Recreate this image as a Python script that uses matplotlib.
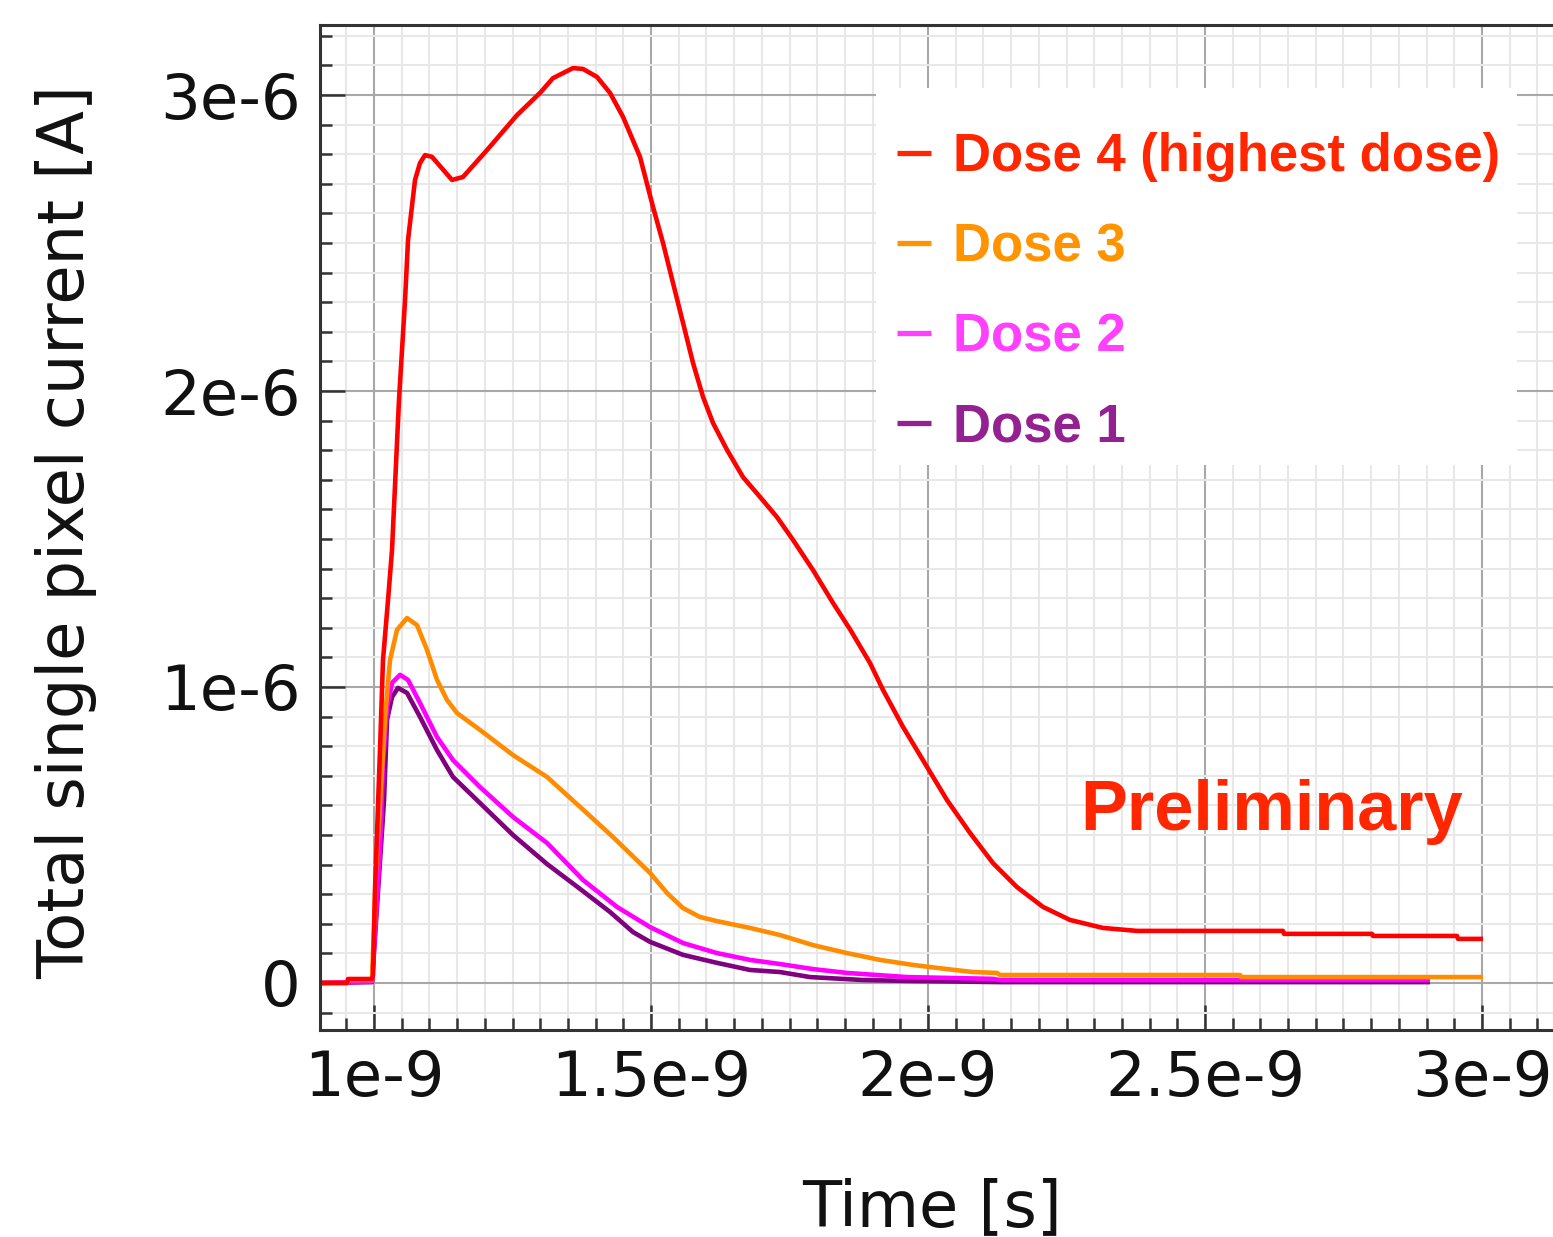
import matplotlib
matplotlib.use('Agg')
import matplotlib.pyplot as plt
from matplotlib.ticker import MultipleLocator
from matplotlib.patches import Rectangle
import numpy as np

# ---------------- data (time in ns, current in uA) ----------------
t_dose4 = [0.9025, 0.9513, 0.9531, 0.9964, 0.9982, 1.0018, 1.0108, 1.0162, 1.0253, 1.0325,
           1.0451, 1.0560, 1.0614, 1.0740, 1.0830, 1.0921, 1.1047, 1.1408, 1.1606, 1.2040,
           1.2581, 1.2996, 1.3231, 1.3592, 1.3773, 1.4025, 1.4260, 1.4495, 1.4801, 1.5036,
           1.5217, 1.5397, 1.5578, 1.5758, 1.5939, 1.6119, 1.6372, 1.6661, 1.6968, 1.7274,
           1.7563, 1.7924, 1.8285, 1.8592, 1.8953, 1.9188, 1.9549, 1.9982, 2.0343, 2.0758,
           2.1173, 2.1606, 2.2076, 2.2563, 2.3159, 2.3773, 2.6408, 2.6426, 2.8014, 2.8032,
           2.9549, 2.9567, 3.0018]
i_dose4 = [0.000, 0.000, 0.0135, 0.0135, 0.027, 0.314, 0.787, 1.091, 1.294, 1.463,
           1.970, 2.307, 2.510, 2.713, 2.770, 2.797, 2.791, 2.713, 2.723, 2.814,
           2.932, 3.007, 3.057, 3.091, 3.088, 3.061, 3.007, 2.926, 2.791, 2.622,
           2.500, 2.365, 2.230, 2.095, 1.980, 1.892, 1.801, 1.709, 1.642, 1.574,
           1.497, 1.395, 1.284, 1.195, 1.081, 0.990, 0.865, 0.730, 0.618, 0.507,
           0.405, 0.324, 0.257, 0.213, 0.186, 0.176, 0.176, 0.166, 0.166, 0.159,
           0.159, 0.149, 0.149]

t_dose3 = [0.9025, 0.9513, 0.9531, 0.9964, 1.0036, 1.0108, 1.0199, 1.0289, 1.0415, 1.0596,
           1.0776, 1.0957, 1.1137, 1.1318, 1.1498, 1.1913, 1.2509, 1.3123, 1.3718, 1.4314,
           1.4982, 1.5289, 1.5578, 1.5884, 1.6191, 1.6787, 1.7329, 1.7924, 1.8538, 1.9134,
           1.9729, 2.0343, 2.0812, 2.1245, 2.1300, 2.5632, 2.5650, 3.0018]
i_dose3 = [0.000, 0.000, 0.010, 0.010, 0.382, 0.608, 0.899, 1.091, 1.193, 1.233,
           1.209, 1.125, 1.024, 0.956, 0.912, 0.855, 0.770, 0.696, 0.595, 0.493,
           0.372, 0.304, 0.253, 0.223, 0.209, 0.186, 0.162, 0.128, 0.101, 0.078,
           0.061, 0.047, 0.037, 0.034, 0.027, 0.027, 0.020, 0.020]

t_dose2 = [0.9025, 0.9964, 1.0108, 1.0162, 1.0235, 1.0325, 1.0469, 1.0614, 1.0830, 1.1137,
           1.1426, 1.1913, 1.2509, 1.3123, 1.3773, 1.4386, 1.4982, 1.5578, 1.6191, 1.6787,
           1.7329, 1.7924, 1.8538, 1.9621, 2.1173, 2.1300, 2.9061]
i_dose2 = [0.000, 0.005, 0.449, 0.743, 0.932, 1.014, 1.041, 1.024, 0.946, 0.831,
           0.753, 0.662, 0.561, 0.473, 0.348, 0.257, 0.189, 0.135, 0.101, 0.078,
           0.064, 0.047, 0.034, 0.020, 0.014, 0.010, 0.010]

t_dose1 = [0.9025, 0.9964, 1.0181, 1.0235, 1.0325, 1.0433, 1.0596, 1.0830, 1.1137, 1.1426,
           1.1913, 1.2509, 1.3123, 1.3718, 1.4260, 1.4675, 1.4982, 1.5578, 1.6191, 1.6787,
           1.7329, 1.7870, 1.8827, 1.9621, 2.1300, 2.9061]
i_dose1 = [0.000, 0.003, 0.618, 0.889, 0.966, 0.997, 0.980, 0.899, 0.787, 0.696,
           0.608, 0.500, 0.402, 0.318, 0.240, 0.172, 0.139, 0.095, 0.068, 0.044,
           0.037, 0.020, 0.010, 0.007, 0.003, 0.003]

labels = ["Dose 4 (highest dose)", "Dose 3", "Dose 2", "Dose 1"]
line_colors = ["#FF0000", "#FF8C00", "#FF00FF", "#800080"]
legend_colors = ["#FF2600", "#FF9300", "#FF40FF", "#942192"]

x_ticks = [1.0, 1.5, 2.0, 2.5, 3.0]
x_ticklabels = ["1e-9", "1.5e-9", "2e-9", "2.5e-9", "3e-9"]
y_ticks = [0, 1, 2, 3]
y_ticklabels = ["0", "1e-6", "2e-6", "3e-6"]

NS = 1e-9
UA = 1e-6

# ---------------- figure ----------------
W, H, DPI = 1553, 1237, 100
fig = plt.figure(figsize=(W / DPI, H / DPI), dpi=DPI)
fig.patch.set_facecolor('white')
ax = fig.add_axes([320 / W, 1 - 1030 / H, 1240 / W, 1005 / H])

series = [(t_dose1, i_dose1, 3), (t_dose2, i_dose2, 2), (t_dose3, i_dose3, 1), (t_dose4, i_dose4, 0)]
handles = {}
for t, i, k in series:
    ln, = ax.plot(np.array(t) * NS, np.array(i) * UA, color=line_colors[k], lw=3.3,
                  solid_joinstyle='round', solid_capstyle='butt',
                  zorder=2 + (3 - k) * 0.1)
    handles[k] = ln

ax.set_xlim(0.9025 * NS, 3.1408 * NS)
ax.set_ylim(-0.1588 * UA, 3.2365 * UA)

ax.set_xticks([x * NS for x in x_ticks], x_ticklabels)
ax.set_yticks([y * UA for y in y_ticks], y_ticklabels)
ax.xaxis.set_minor_locator(MultipleLocator(0.05 * NS))
ax.yaxis.set_minor_locator(MultipleLocator(0.1 * UA))

ax.tick_params(which='major', direction='in', length=18, width=1.8, color='#333333',
               labelsize=45, pad=14, labelcolor='#111111', top=False, right=False)
ax.tick_params(which='minor', direction='in', length=8.6, width=1.8, color='#333333',
               top=False, right=False)

ax.set_axisbelow(True)
ax.grid(which='major', color='#a8a8a8', lw=1.5)
ax.grid(which='minor', color='#e8e8e8', lw=1.5)

for s in ['left', 'bottom', 'top']:
    ax.spines[s].set_color('#333333')
    ax.spines[s].set_linewidth(2.2)
ax.spines['right'].set_visible(False)

ax.set_xlabel('Time [s]', fontsize=46, color='#111111')
ax.xaxis.set_label_coords(0.4935, -0.1463)
ax.set_ylabel('Total single pixel current [A]', fontsize=46, color='#111111')
ax.yaxis.set_label_coords(-0.180, 0.4955)

# white legend box
ax.add_patch(Rectangle((0.4484, 0.5622), 0.5169, 0.3751, transform=ax.transAxes,
                       facecolor='white', edgecolor='none', zorder=3))

leg_font = dict(family=['Liberation Sans', 'DejaVu Sans'], weight='bold', size=38)
leg = ax.legend([handles[0], handles[1], handles[2], handles[3]], labels,
                loc='upper left', bbox_to_anchor=(0.4653, 0.8935), frameon=False,
                prop=leg_font, handlelength=0.64, handletextpad=0.42, labelspacing=0.76,
                borderpad=0, borderaxespad=0, labelcolor=legend_colors)
leg.set_zorder(5)
for h, c in zip(leg.legend_handles, legend_colors):
    h.set_color(c)
    h.set_linewidth(3.8)
    h.set_solid_capstyle('butt')

ax.text(0.7673, 0.199, 'Preliminary', transform=ax.transAxes, ha='center', va='baseline',
        fontsize=50.6, fontweight='bold', family=['Liberation Sans', 'DejaVu Sans'],
        color='#FF2600', zorder=6)

fig.savefig('out.png', dpi=DPI, facecolor='white')
